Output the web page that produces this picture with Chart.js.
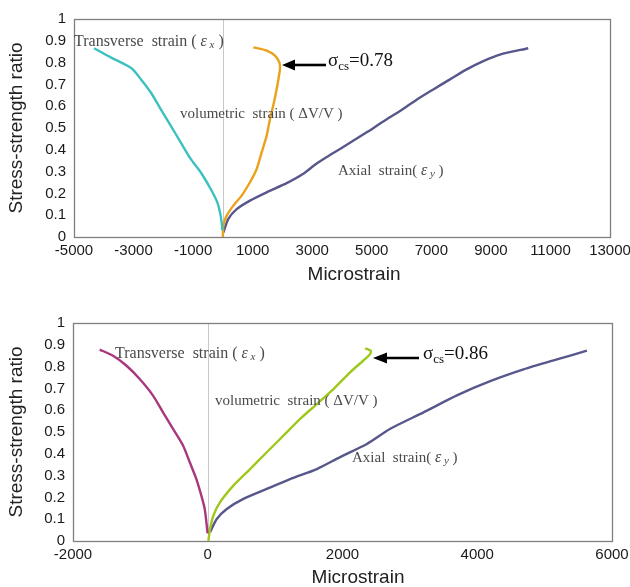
<!DOCTYPE html>
<html>
<head>
<meta charset="utf-8">
<script src="https://cdn.jsdelivr.net/npm/chart.js@4.4.1/dist/chart.umd.min.js"></script>
<style>
html,body{margin:0;padding:0;background:#fff;}
#wrap{width:630px;height:587px;position:relative;overflow:hidden;}
.c{position:absolute;left:0;}
</style>
</head>
<body>
<div id="wrap">
<div class="c" style="top:0;width:630px;height:293px;"><canvas id="c1" width="630" height="293"></canvas></div>
<div class="c" style="top:293px;width:630px;height:294px;"><canvas id="c2" width="630" height="294"></canvas></div>
</div>
<script>
// ---------- Data: top chart (σcs = 0.78) ----------
const topTransverseX = [-10,-75,-188,-410,-745,-1081,-1417,-1753,-2089,-2425,-2761,-3042,-3321,-3768,-4328];
const topTransverseY = [0.03,0.098,0.159,0.22,0.297,0.358,0.434,0.511,0.587,0.664,0.725,0.771,0.794,0.824,0.866];
const topVolumetricX = [0,15,127,350,631,910,1134,1302,1470,1582,1716,1827,1917,1894,1750,1470,1022];
const topVolumetricY = [0,0.052,0.098,0.144,0.19,0.251,0.312,0.388,0.465,0.541,0.618,0.694,0.771,0.801,0.832,0.855,0.870];
const topAxialX = [15,183,463,910,1470,2142,2700,3149,3708,4268,4829,5386,5947,6508,7065,7626,8187,8744,9305,10255];
const topAxialY = [0.02,0.083,0.128,0.167,0.205,0.247,0.29,0.337,0.385,0.432,0.480,0.530,0.578,0.630,0.677,0.723,0.769,0.807,0.837,0.866];
const topXTicks = [-5000,-3000,-1000,1000,3000,5000,7000,9000,11000,13000];

// ---------- Data: bottom chart (σcs = 0.86) ----------
const botTransverseX = [-3,-20,-45,-95,-169,-267,-367,-515,-664,-812,-1010,-1209,-1406,-1604];
const botTransverseY = [0.035,0.086,0.147,0.208,0.284,0.361,0.438,0.514,0.590,0.667,0.743,0.805,0.850,0.878];
const botVolumetricX = [9,34,83,183,380,628,876,1123,1371,1619,1865,2113,2311,2410,2420,2336];
const botVolumetricY = [0,0.055,0.116,0.178,0.254,0.330,0.407,0.483,0.560,0.628,0.697,0.774,0.828,0.858,0.873,0.884];
const botAxialX = [34,134,282,529,876,1222,1619,1965,2361,2710,3202,3698,4192,4687,5183,5628];
const botAxialY = [0.04,0.101,0.147,0.193,0.239,0.284,0.330,0.385,0.445,0.515,0.590,0.668,0.733,0.787,0.833,0.873];
const botXTicks = [-2000,0,2000,4000,6000];

const yTicks = [0,0.1,0.2,0.3,0.4,0.5,0.6,0.7,0.8,0.9,1];

function pts(xs, ys){ return xs.map((x,i)=>({x:x,y:ys[i]})); }

function ds(xs, ys, color){
  return {data: pts(xs,ys), borderColor: color, backgroundColor: color, borderWidth: 2.4,
          showLine: true, pointRadius: 0, tension: 0.25, fill: false};
}

const SERIF = '"Liberation Serif","Times New Roman",serif';
const SANS = '"Liberation Sans",Arial,sans-serif';

function rich(ctx, x, y, parts, color){
  ctx.save();
  ctx.fillStyle = color;
  ctx.textBaseline = 'alphabetic';
  ctx.textAlign = 'left';
  let cx = x;
  for (const p of parts){
    ctx.font = p.font;
    ctx.fillText(p.t, cx, y + (p.dy||0));
    cx += ctx.measureText(p.t).width;
  }
  ctx.restore();
}

function arrow(ctx, x1, x2, y, head){
  ctx.save();
  ctx.strokeStyle = '#000'; ctx.fillStyle = '#000'; ctx.lineWidth = 2.6;
  ctx.beginPath(); ctx.moveTo(x1, y); ctx.lineTo(x2 + head - 1, y); ctx.stroke();
  ctx.beginPath(); ctx.moveTo(x2, y); ctx.lineTo(x2 + head, y - 5.5); ctx.lineTo(x2 + head, y + 5.5); ctx.closePath(); ctx.fill();
  ctx.restore();
}

function frameAndText(cfg){
  return {
    id: 'deco',
    beforeDatasetsDraw(chart){
      const ctx = chart.ctx, a = chart.chartArea;
      const x0 = chart.scales.x.getPixelForValue(0);
      ctx.save();
      ctx.strokeStyle = '#c8c8c8'; ctx.lineWidth = 1;
      ctx.beginPath(); ctx.moveTo(Math.round(x0)+0.5, a.top); ctx.lineTo(Math.round(x0)+0.5, a.bottom); ctx.stroke();
      ctx.restore();
    },
    afterDraw(chart){
      const ctx = chart.ctx, a = chart.chartArea;
      ctx.save();
      ctx.strokeStyle = '#7f7f7f'; ctx.lineWidth = 1.3;
      ctx.strokeRect(a.left+0.5, a.top+0.5, a.right-a.left, a.bottom-a.top);
      ctx.fillStyle = '#222';
      ctx.font = '19px ' + SANS;
      ctx.textAlign = 'center'; ctx.textBaseline = 'middle';
      ctx.fillText('Microstrain', cfg.xTitleX, cfg.xTitleY);
      ctx.translate(cfg.yTitleX, (a.top + a.bottom)/2);
      ctx.rotate(-Math.PI/2);
      ctx.fillText('Stress-strength ratio', 0, 0);
      ctx.restore();
      cfg.texts(ctx);
    }
  };
}

function makeChart(id, sets, xmin, xmax, xTickVals, pad, yW, xH, deco){
  return new Chart(document.getElementById(id), {
    type: 'scatter',
    data: { datasets: sets },
    options: {
      responsive: false, animation: false, devicePixelRatio: 1,
      layout: { padding: pad },
      plugins: { legend: {display:false}, tooltip: {enabled:false} },
      scales: {
        x: {
          type: 'linear', min: xmin, max: xmax,
          afterBuildTicks(axis){ axis.ticks = xTickVals.map(v=>({value:v})); },
          afterFit(axis){ axis.height = xH; axis.paddingLeft = 0; axis.paddingRight = 0; },
          grid: {display:false, drawTicks:false},
          border: {display:false},
          ticks: {autoSkip:false, maxRotation:0, padding:5, color:'#1a1a1a',
                  font:{family:SANS, size:15}, callback: v => String(v)}
        },
        y: {
          type: 'linear', min: 0, max: 1,
          afterBuildTicks(axis){ axis.ticks = yTicks.map(v=>({value:v})); },
          afterFit(axis){ axis.width = yW; },
          grid: {display:false, drawTicks:false},
          border: {display:false},
          ticks: {autoSkip:false, padding:8, color:'#1a1a1a',
                  font:{family:SANS, size:15}, callback: v => String(Math.round(v*10)/10)}
        }
      }
    },
    plugins: [deco]
  });
}

const gray = '#4a4a4a';
const f15 = '15px ' + SERIF, f15i = 'italic 15px ' + SERIF, f11i = 'italic 11px ' + SERIF;
const f16 = '16px ' + SERIF, f16i = 'italic 16px ' + SERIF;

makeChart('c1', [
  ds(topTransverseX, topTransverseY, '#3cc0c0'),
  ds(topVolumetricX, topVolumetricY, '#eaa21c'),
  ds(topAxialX, topAxialY, '#57578c')
], -5000, 13000, topXTicks, {left:0,right:20,top:19,bottom:0}, 74, 56, frameAndText({
  xTitleX: 354, xTitleY: 275, yTitleX: 17,
  texts(ctx){
    rich(ctx, 74, 46, [{t:'Transverse  strain ( ',font:f16},{t:'ε',font:f16i},{t:' x',font:f11i,dy:2},{t:' )',font:f16}], gray);
    rich(ctx, 180, 118, [{t:'volumetric  strain ( ',font:f15},{t:'ΔV/V',font:f15},{t:' )',font:f15}], gray);
    rich(ctx, 338, 175, [{t:'Axial  strain( ',font:f15},{t:'ε',font:f16i},{t:' y',font:f11i,dy:2},{t:' )',font:f15}], gray);
    rich(ctx, 328, 66, [{t:'σ',font:'19px '+SERIF},{t:'cs',font:'13px '+SERIF,dy:4},{t:'=0.78',font:'19px '+SERIF}], '#111');
    arrow(ctx, 326, 282, 65, 13);
  }
}));

makeChart('c2', [
  ds(botTransverseX, botTransverseY, '#a8387e'),
  ds(botVolumetricX, botVolumetricY, '#9ec81c'),
  ds(botAxialX, botAxialY, '#57578c')
], -2000, 6000, botXTicks, {left:0,right:18,top:30,bottom:0}, 73, 46, frameAndText({
  xTitleX: 358, xTitleY: 285, yTitleX: 17,
  texts(ctx){
    rich(ctx, 115, 65, [{t:'Transverse  strain ( ',font:f16},{t:'ε',font:f16i},{t:' x',font:f11i,dy:2},{t:' )',font:f16}], gray);
    rich(ctx, 215, 112, [{t:'volumetric  strain ( ',font:f15},{t:'ΔV/V',font:f15},{t:' )',font:f15}], gray);
    rich(ctx, 352, 169, [{t:'Axial  strain( ',font:f15},{t:'ε',font:f16i},{t:' y',font:f11i,dy:2},{t:' )',font:f15}], gray);
    rich(ctx, 423, 66, [{t:'σ',font:'19px '+SERIF},{t:'cs',font:'13px '+SERIF,dy:4},{t:'=0.86',font:'19px '+SERIF}], '#111');
    arrow(ctx, 419, 373, 65, 14);
  }
}));
</script>
</body>
</html>
